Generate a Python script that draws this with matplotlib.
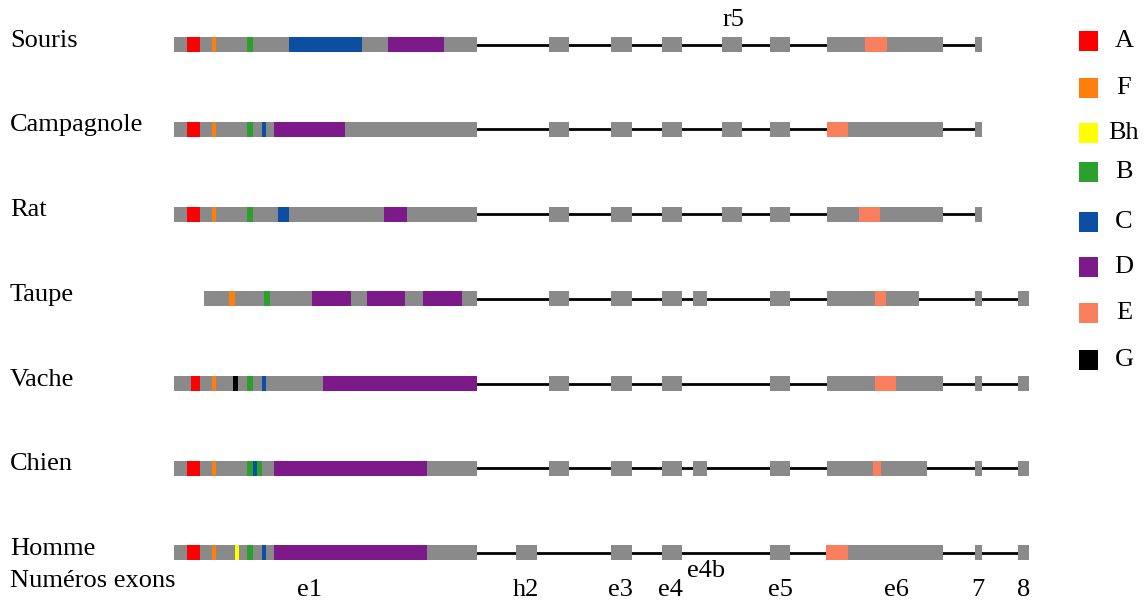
import matplotlib
matplotlib.use("Agg")
import matplotlib.pyplot as plt
from matplotlib.patches import Rectangle

species = ["Souris", "Campagnole", "Rat", "Taupe", "Vache", "Chien", "Homme"]

domain_colors = {"A": "#ff0000", "F": "#ff7f0e", "Bh": "#ffff00", "B": "#2ca02c",
                 "C": "#0b4ea2", "D": "#7d1a8a", "E": "#fa7f5e", "G": "#000000"}
legend_order = ["A", "F", "Bh", "B", "C", "D", "E", "G"]

# exon 1 extent per species
exon1_start = [174, 174, 174, 204, 174, 174, 174]
exon1_end = [477, 477, 477, 477, 477, 477, 477]

# domains inside exon 1: (start, end, domain)
domains_e1 = [
    [(187, 200, "A"), (212, 216, "F"), (247, 253, "B"), (289, 362, "C"), (388, 444, "D")],
    [(187, 200, "A"), (212, 216, "F"), (247, 253, "B"), (262, 266, "C"), (274, 345, "D")],
    [(187, 200, "A"), (212, 216, "F"), (247, 253, "B"), (278, 289, "C"), (384, 407, "D")],
    [(229, 235, "F"), (264, 270, "B"), (312, 351, "D"), (367, 405, "D"), (423, 462, "D")],
    [(191, 200, "A"), (212, 216, "F"), (233, 238, "G"), (247, 253, "B"), (262, 266, "C"), (323, 477, "D")],
    [(187, 200, "A"), (212, 216, "F"), (247, 262, "B"), (253, 257, "C"), (274, 427, "D")],
    [(187, 200, "A"), (212, 216, "F"), (235, 239, "Bh"), (247, 253, "B"), (262, 266, "C"), (274, 427, "D")],
]

# downstream exons: (start, end)
exons_down = [
    [(549, 569), (611, 632), (662, 682), (722, 742), (770, 790), (827, 943), (975, 982)],
    [(549, 569), (611, 632), (662, 682), (722, 742), (770, 790), (827, 943), (975, 982)],
    [(549, 569), (611, 632), (662, 682), (722, 742), (770, 790), (827, 943), (975, 982)],
    [(549, 569), (611, 632), (662, 682), (693, 707), (770, 790), (827, 919), (975, 982), (1018, 1029)],
    [(549, 569), (611, 632), (662, 682), (770, 790), (827, 943), (975, 982), (1018, 1029)],
    [(549, 569), (611, 632), (662, 682), (693, 707), (770, 790), (827, 927), (975, 982), (1018, 1029)],
    [(516, 537), (611, 632), (662, 682), (770, 790), (826, 943), (975, 982), (1018, 1029)],
]

# domain E inside exon 6
domain_e6 = [(865, 887), (827, 848), (859, 880), (875, 886), (875, 896), (873, 881), (826, 848)]

exon_labels = ["e1", "h2", "e3", "e4", "e4b", "e5", "e6", "7", "8"]
exon_label_x = [310, 526, 620, 670, 706, 780, 896, 978, 1024]

GRAY = "#8a8a8a"
serif = ["Liberation Serif", "DejaVu Serif"]
FS = 19

fig = plt.figure(figsize=(11.47, 6.0), dpi=100)
ax = fig.add_axes([0, 0, 1, 1])
ax.set_xlim(0, 1147)
ax.set_ylim(600, 0)
ax.axis("off")

row_y0, row_step, h = 44.7, 84.7, 15

for i, name in enumerate(species):
    yc = row_y0 + i * row_step
    last_start = exons_down[i][-1][0]
    ax.plot([exon1_end[i], last_start], [yc, yc], color="black", lw=2, zorder=1)
    ax.add_patch(Rectangle((exon1_start[i], yc - h / 2), exon1_end[i] - exon1_start[i], h,
                           color=GRAY, lw=0, zorder=2))
    for (s, e, d) in domains_e1[i]:
        ax.add_patch(Rectangle((s, yc - h / 2), e - s, h, color=domain_colors[d], lw=0, zorder=3))
    for (s, e) in exons_down[i]:
        ax.add_patch(Rectangle((s, yc - h / 2), e - s, h, color=GRAY, lw=0, zorder=2))
    s, e = domain_e6[i]
    ax.add_patch(Rectangle((s, yc - h / 2), e - s, h, color=domain_colors["E"], lw=0, zorder=3))
    ax.text(10, yc - 4, name, family=serif, fontsize=FS, va="center", ha="left")

ax.text(733, 20, "r5", family=serif, fontsize=FS, va="center", ha="center")
ax.text(10, 581, "Numéros exons", family=serif, fontsize=FS, va="center", ha="left")
for lab, x in zip(exon_labels, exon_label_x):
    y = 571 if lab == "e4b" else 590
    ax.text(x, y, lab, family=serif, fontsize=FS, va="center", ha="center")

legend_y = [41, 88, 133, 172, 222, 267, 313, 360]
for d, y in zip(legend_order, legend_y):
    ax.add_patch(Rectangle((1079, y - 10), 19, 20, color=domain_colors[d], lw=0))
    ax.text(1124, y, d, family=serif, fontsize=FS, va="center", ha="center")

fig.savefig("out.png", dpi=100)
